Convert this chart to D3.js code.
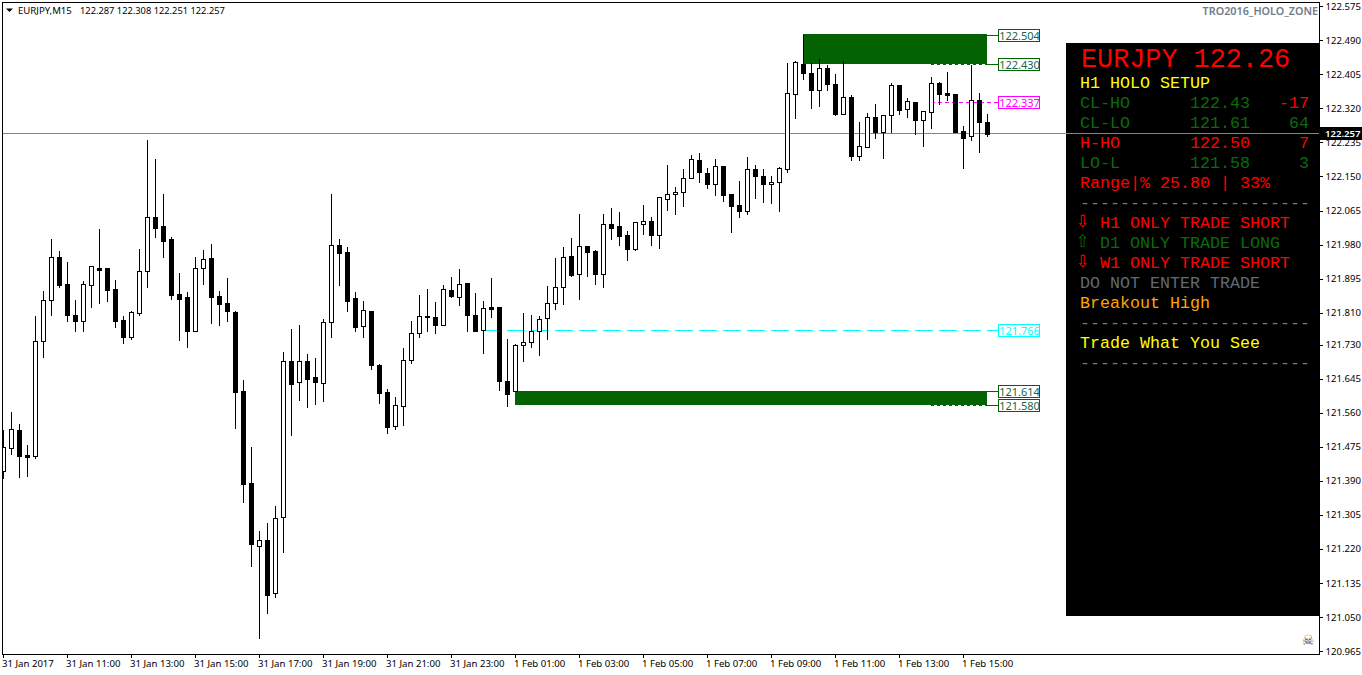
<!DOCTYPE html>
<html><head><meta charset="utf-8">
<script src="https://cdn.jsdelivr.net/npm/d3@7/dist/d3.min.js"></script>
<style>html,body{margin:0;padding:0;background:#fff;overflow:hidden}svg{display:block}</style>
</head><body><svg id="c" width="1362" height="675"></svg>
<script>
const opens=[121.415,121.471,121.516,121.455,121.453,121.739,121.841,121.949,121.882,121.804,121.788,121.878,121.922,121.922,121.869,121.792,121.749,121.810,121.913,122.049,122.027,121.994,121.857,121.849,121.765,121.921,121.947,121.852,121.834,121.812,121.615,121.385,121.228,121.242,121.109,121.299,121.689,121.636,121.689,121.649,121.634,121.786,121.978,121.962,121.846,121.776,121.814,121.679,121.611,121.526,121.578,121.691,121.759,121.802,121.799,121.780,121.866,121.850,121.884,121.804,121.766,121.824,121.824,121.640,121.614,121.728,121.736,121.764,121.796,121.834,121.874,121.951,121.906,121.977,121.963,121.906,122.032,122.027,122.004,121.968,122.032,122.039,122.005,122.095,122.106,122.111,122.147,122.191,122.158,122.131,122.176,122.106,122.078,122.063,122.168,122.151,122.131,122.136,122.168,122.355,122.431,122.409,122.367,122.420,122.381,122.305,122.349,122.200,122.223,122.298,122.262,122.303,122.378,122.318,122.336,122.292,122.312,122.383,122.358,122.355,122.263,122.251,122.341,122.287];
const highs=[121.520,121.565,121.535,121.482,121.804,121.866,121.997,121.966,121.939,121.844,121.892,121.927,122.022,121.924,121.894,121.804,121.817,121.972,122.244,122.196,122.109,122.002,121.912,121.864,121.952,121.969,121.984,121.867,121.899,121.817,121.644,121.477,121.267,121.287,121.330,121.714,121.772,121.782,121.709,121.699,121.796,122.108,121.996,121.977,121.864,121.841,121.817,121.684,121.621,121.602,121.724,121.792,121.856,121.872,121.839,121.882,121.901,121.921,121.887,121.862,121.842,121.899,121.824,121.747,121.734,121.812,121.807,121.804,121.879,121.949,121.976,121.998,122.058,121.978,121.968,122.058,122.074,122.064,122.017,122.036,122.081,122.052,122.101,122.181,122.126,122.171,122.206,122.211,122.173,122.196,122.176,122.106,122.141,122.201,122.181,122.171,122.153,122.176,122.435,122.441,122.506,122.436,122.446,122.431,122.409,122.441,122.355,122.289,122.311,122.333,122.303,122.386,122.381,122.348,122.338,122.313,122.401,122.388,122.414,122.355,122.278,122.430,122.361,122.308];
const lows=[121.397,121.458,121.400,121.403,121.448,121.700,121.803,121.875,121.790,121.763,121.763,121.825,121.835,121.839,121.775,121.733,121.745,121.805,121.875,121.999,121.950,121.843,121.742,121.723,121.763,121.882,121.785,121.778,121.790,121.523,121.338,121.178,120.998,121.061,121.101,121.211,121.505,121.593,121.575,121.583,121.590,121.748,121.880,121.813,121.763,121.748,121.670,121.585,121.510,121.520,121.530,121.683,121.750,121.763,121.758,121.778,121.849,121.830,121.763,121.763,121.710,121.800,121.618,121.578,121.614,121.688,121.725,121.703,121.745,121.818,121.832,121.902,121.845,121.902,121.882,121.875,121.995,121.980,121.942,121.966,122.007,121.980,121.972,122.067,122.057,122.077,122.145,122.137,122.120,122.105,122.090,122.012,122.050,122.057,122.097,122.087,122.085,122.065,122.160,122.297,122.394,122.322,122.327,122.367,122.304,122.305,122.191,122.190,122.223,122.245,122.195,122.262,122.306,122.299,122.255,122.227,122.270,122.330,122.342,122.262,122.172,122.242,122.210,122.251];
const closes=[121.475,121.519,121.453,121.450,121.739,121.841,121.948,121.879,121.803,121.788,121.881,121.926,121.917,121.867,121.790,121.748,121.811,121.913,122.048,122.022,121.990,121.853,121.845,121.765,121.921,121.943,121.850,121.832,121.813,121.613,121.382,121.231,121.242,121.106,121.297,121.689,121.633,121.689,121.645,121.638,121.786,121.978,121.960,121.840,121.775,121.816,121.678,121.610,121.525,121.579,121.691,121.759,121.801,121.798,121.778,121.869,121.852,121.881,121.803,121.763,121.821,121.819,121.640,121.608,121.729,121.736,121.764,121.794,121.834,121.874,121.948,121.905,121.976,121.962,121.907,122.031,122.022,122.002,121.970,122.036,122.038,122.005,122.098,122.106,122.111,122.146,122.193,122.160,122.130,122.176,122.105,122.077,122.065,122.168,122.150,122.130,122.136,122.171,122.358,122.435,122.409,122.367,122.420,122.381,122.306,122.348,122.200,122.226,122.298,122.262,122.303,122.378,122.317,122.338,122.290,122.313,122.383,122.357,122.354,122.262,122.246,122.341,122.287,122.257];
const priceTicks=[122.575,122.490,122.405,122.320,122.235,122.150,122.065,121.980,121.895,121.810,121.730,121.645,121.560,121.475,121.390,121.305,121.220,121.135,121.050,120.965];
const timeTickIndex=[0,8,16,24,32,40,48,56,64,72,80,88,96,104,112,120];
const timeLabels=["31 Jan 2017","31 Jan 11:00","31 Jan 13:00","31 Jan 15:00","31 Jan 17:00","31 Jan 19:00","31 Jan 21:00","31 Jan 23:00","1 Feb 01:00","1 Feb 03:00","1 Feb 05:00","1 Feb 07:00","1 Feb 09:00","1 Feb 11:00","1 Feb 13:00","1 Feb 15:00"];
const headerSymbol="EURJPY,M15";
const headerPrices="122.287 122.308 122.251 122.257";
const lastPrice=122.257;
const zoneHigh={from:100,top:122.504,bottom:122.430};
const zoneLow={from:64,top:121.614,bottom:121.580};
const levelLabels=[[122.504,"#006400"],[122.430,"#006400"],[122.337,"#ff00ff"],[121.766,"#00ffff"],[121.614,"#006400"],[121.580,"#006400"]];
const panelRows=[
 [88,"H1 HOLO SETUP","#ffff00"],
 [108,"CL-HO","#0b6b0b"],[128,"CL-LO","#0b6b0b"],[148,"H-HO","#ff0000"],[168,"LO-L","#0b6b0b"],
 [188,"Range|% 25.80 | 33%","#ff0000"],[208,"-----------------------","#6e7a85"],
 [288,"DO NOT ENTER TRADE","#5f6b78"],[308,"Breakout High","#ffa500"],
 [328,"-----------------------","#6e7a85"],[348,"Trade What You See","#ffff00"],[368,"-----------------------","#6e7a85"]];
const panelValues=[[108,"122.43","#0b6b0b"],[128,"121.61","#0b6b0b"],[148,"122.50","#ff0000"],[168,"121.58","#0b6b0b"]];
const panelDiffs=[[108,"-17","#ff0000"],[128,"64","#0b6b0b"],[148,"7","#ff0000"],[168,"3","#0b6b0b"]];
const panelTrend=[[227,"⇩","H1 ONLY TRADE SHORT","#ff0000"],[247,"⇧","D1 ONLY TRADE LONG","#0b6b0b"],[267,"⇩","W1 ONLY TRADE SHORT","#ff0000"]];

const axisFont="'Noto Sans',sans-serif", mono="'Liberation Mono',monospace";
const svg=d3.select("#c");
const L=2.5,T=2.5,R=1319.5,B=654.5;
const x=d3.scaleLinear().domain([0,123]).range([3.5,987.5]);
const y=d3.scaleLinear().domain([122.575,120.965]).range([6.3,651]);
const sy=v=>Math.round(y(v))+0.5;
const green="#036303";
svg.append("defs").append("clipPath").attr("id","pl").append("rect").attr("x",L).attr("y",T).attr("width",R-L).attr("height",B-T);
const plot=svg.append("g").attr("clip-path","url(#pl)");
// zones
[zoneHigh,zoneLow].forEach(z=>{
 const t=Math.floor(y(z.top)), b=Math.round(y(z.bottom));
 plot.append("rect").attr("x",x(z.from)-.5).attr("y",t).attr("width",x(123)-x(z.from)).attr("height",b-t).attr("fill",green);
});
// level lines
const line=(v,x1,x2,c,dash)=>plot.append("line").attr("x1",x1).attr("x2",x2).attr("y1",sy(v)).attr("y2",sy(v)).attr("stroke",c).attr("stroke-dasharray",dash||null).attr("shape-rendering","crispEdges");
line(121.766,483,998,"#00ffff","18 6");
line(122.337,931,998,"#ff00ff","4 3");
line(122.430,931,987,green,"3 3");
line(121.580,931,987,green,"3 3");
line(122.504,987,998,green);line(122.430,987,998,green);line(121.614,987,998,green);line(121.580,987,998,green);
// panel (under the price line)
plot.append("rect").attr("x",1066).attr("y",43).attr("width",253.5).attr("height",573).attr("fill","#000");
// price line
plot.append("line").attr("x1",L).attr("x2",R).attr("y1",sy(lastPrice)-1).attr("y2",sy(lastPrice)-1).attr("stroke","#778899").attr("shape-rendering","crispEdges");
// candles
const idx=d3.range(opens.length);
const g=plot.append("g").attr("shape-rendering","crispEdges");
g.selectAll("line").data(idx).join("line").attr("x1",x).attr("x2",x).attr("y1",i=>sy(highs[i])).attr("y2",i=>sy(lows[i])+.5).attr("stroke","#000");
g.selectAll("rect").data(idx).join("rect").attr("x",i=>x(i)-2).attr("width",4)
 .attr("y",i=>Math.min(sy(opens[i]),sy(closes[i]))).attr("height",i=>Math.max(Math.abs(sy(opens[i])-sy(closes[i])),1))
 .attr("fill",i=>closes[i]>=opens[i]?"#fff":"#000").attr("stroke","#000");
// frame
svg.append("rect").attr("x",L).attr("y",T).attr("width",R-L).attr("height",B-T).attr("fill","none").attr("stroke","#000").attr("shape-rendering","crispEdges");
// axes
const ay=svg.append("g").attr("transform",`translate(${R},0)`).call(d3.axisRight(y).tickValues(priceTicks).tickFormat(d3.format(".3f")).tickSize(3).tickPadding(3).offset(0.5));
ay.select(".domain").remove();
ay.selectAll("text").attr("font-family",axisFont).attr("font-size",9.6).attr("fill","#000");
ay.selectAll("line").attr("stroke","#000").attr("shape-rendering","crispEdges");
const ax=svg.append("g").attr("transform",`translate(0,${B})`).call(d3.axisBottom(x).tickValues(timeTickIndex).tickFormat((d,i)=>timeLabels[i]).tickSize(3).tickPadding(3).offset(0));
ax.select(".domain").remove();
ax.selectAll("text").attr("text-anchor","start").attr("dx",-1.5).attr("font-family",axisFont).attr("font-size",9.6).attr("fill","#000");
ax.selectAll("line").attr("stroke","#000").attr("shape-rendering","crispEdges");
// last price tag
svg.append("rect").attr("x",1320).attr("y",127).attr("width",42).attr("height",13).attr("fill","#000");
svg.append("text").attr("x",1325).attr("y",137).attr("fill","#fff").attr("font-family",axisFont).attr("font-size",9.6).attr("font-weight",600).text(d3.format(".3f")(lastPrice));
// header
svg.append("path").attr("d","M6 8.5H13L9.5 12Z").attr("fill","#000");
svg.append("text").attr("x",18).attr("y",14).attr("fill","#000").attr("font-family",axisFont).attr("font-size",9.6).text(headerSymbol);
svg.append("text").attr("x",80).attr("y",14).attr("fill","#000").attr("font-family",axisFont).attr("font-size",9.3).text(headerPrices);
svg.append("text").attr("x",1318).attr("y",15).attr("text-anchor","end").attr("fill","#707c88").attr("font-family",axisFont).attr("font-size",10.8).attr("font-weight",600).text("TRO2016_HOLO_ZONE");
// level labels
levelLabels.forEach(([v,c])=>{
 const cy=y(v), top=Math.round(cy-6)+.5;
 svg.append("rect").attr("x",998.5).attr("y",top).attr("width",41).attr("height",12).attr("fill","#fff").attr("stroke",c).attr("shape-rendering","crispEdges");
 svg.append("text").attr("x",1019.5).attr("y",top+10).attr("text-anchor","middle").attr("fill",c==="#006400"?"#17654a":c).attr("font-family",axisFont).attr("font-size",11).text(v.toFixed(3));
});
// panel texts
svg.append("text").attr("x",1081).attr("y",67).attr("fill","#ff0000").attr("font-family",mono).attr("font-size",26.8).text("EURJPY 122.26");
const pt=(t,px,py,c,anchor)=>svg.append("text").attr("x",px).attr("y",py).attr("fill",c).attr("text-anchor",anchor||"start").attr("font-family",mono).attr("font-size",16.67).text(t);
panelRows.forEach(([py,t,c])=>pt(t,1080,py,c));
panelValues.forEach(([py,t,c])=>pt(t,1190,py,c));
panelDiffs.forEach(([py,t,c])=>pt(t,1309,py,c,"end"));
panelTrend.forEach(([py,a,t,c])=>{
 svg.append("text").attr("x",1082.5).attr("y",py).attr("text-anchor","middle").attr("fill",c).attr("font-family","'DejaVu Sans'").attr("font-size",17).text(a);
 pt(t,1100,py+1,c);
});
// skull
svg.append("text").attr("x",1308).attr("y",645).attr("text-anchor","middle").attr("fill","#444c55").attr("font-family","'DejaVu Sans'").attr("font-size",14).text("☠");
</script></body></html>
